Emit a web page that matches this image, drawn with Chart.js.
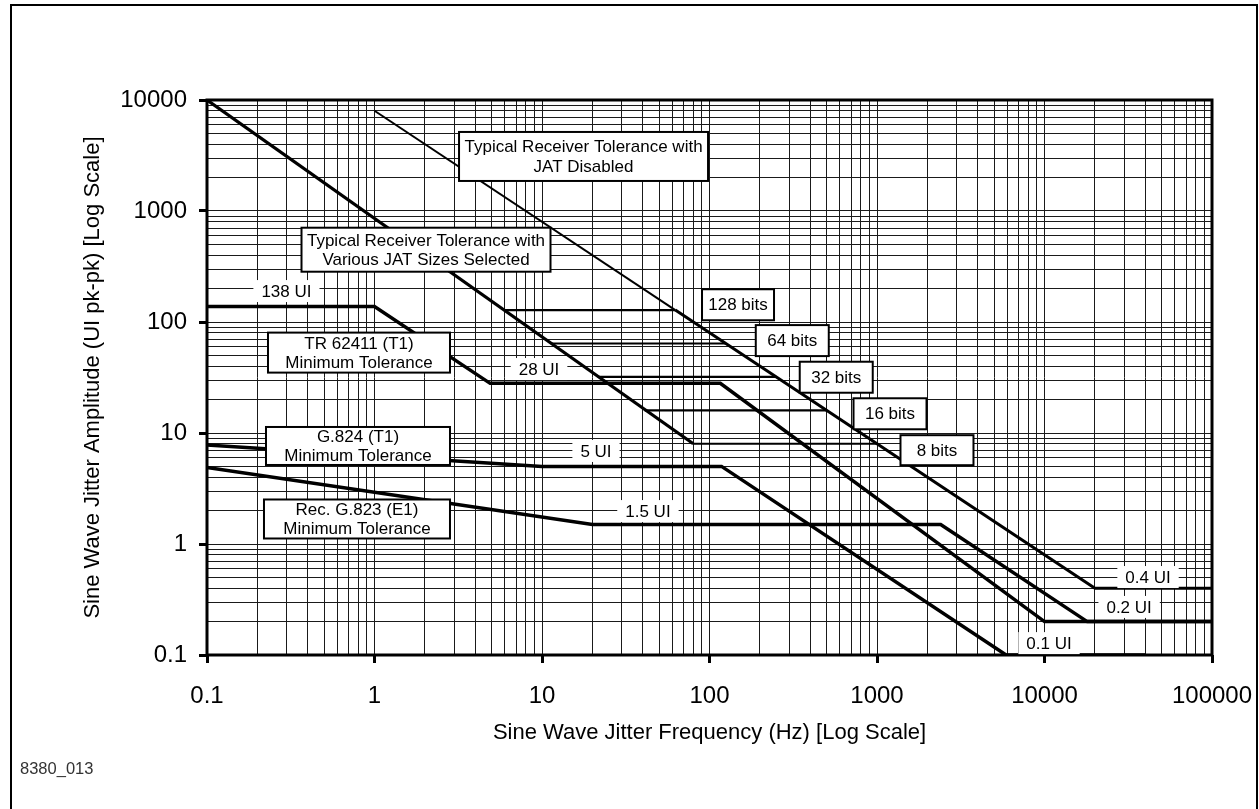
<!DOCTYPE html>
<html>
<head>
<meta charset="utf-8">
<title>Jitter tolerance</title>
<script src="https://cdn.jsdelivr.net/npm/chart.js@4.4.1/dist/chart.umd.min.js"></script>
<style>
  html, body { margin: 0; padding: 0; background: #fff; }
  #wrap { width: 1259px; height: 809px; position: relative; }
</style>
</head>
<body>
<div id="wrap"><canvas id="jitterChart"></canvas></div>
<script>
// decade ticks and their labels
const freqTicks = [0.1, 1, 10, 100, 1000, 10000, 100000];
const freqTickLabels = ["0.1", "1", "10", "100", "1000", "10000", "100000"];
const ampTicks = [0.1, 1, 10, 100, 1000, 10000];
const ampTickLabels = ["0.1", "1", "10", "100", "1000", "10000"];

// TR 62411 (T1) minimum tolerance
const tr62411Freq = [0.1, 1, 4.9, 116, 10000, 100000];
const tr62411Amp = [138, 138, 28, 28, 0.2, 0.2];

// G.824 (T1) minimum tolerance
const g824Freq = [0.1, 10, 118, 5900, 40000];
const g824Amp = [7.8, 5, 5, 0.1, 0.1];

// Rec. G.823 (E1) minimum tolerance
const g823Freq = [0.1, 20, 2400, 18000, 100000];
const g823Amp = [4.9, 1.5, 1.5, 0.2, 0.2];

// typical receiver, JAT selected: common low frequency slope
const jatSlopeFreq = [0.1, 80];
const jatSlopeAmp = [10000, 8];

// typical receiver, JAT disabled
const jatOffFreq = [1, 62.5, 20000, 100000];
const jatOffAmp = [8000, 128, 0.4, 0.4];

// JAT size plateaus (bits)
const jatSizes = [128, 64, 32, 16, 8];
const jatStartFreq = [6, 11.3, 21.5, 41, 80];
const jatEndFreq = [62.5, 125, 250, 500, 1000];

const FONT = '"Liberation Sans", Arial, Helvetica, sans-serif';

// labels, anchored in data coordinates (Hz, UI)
const notes = [
    { text: "Typical Receiver Tolerance with\nJAT Disabled", f: 17.7, v: 3100, w: 249, h: 49 },
    { text: "Typical Receiver Tolerance with\nVarious JAT Sizes Selected", f: 2.03, v: 448, w: 249, h: 44 },
    { text: "TR 62411 (T1)\nMinimum Tolerance", f: 0.808, v: 53, w: 182, h: 40 },
    { text: "G.824 (T1)\nMinimum Tolerance", f: 0.797, v: 7.64, w: 184, h: 38 },
    { text: "Rec. G.823 (E1)\nMinimum Tolerance", f: 0.786, v: 1.68, w: 186, h: 39 },
    { text: "128 bits", f: 148, v: 143, w: 72, h: 31 },
    { text: "64 bits", f: 312, v: 68, w: 73, h: 31 },
    { text: "32 bits", f: 571, v: 31.8, w: 73, h: 31 },
    { text: "16 bits", f: 1196, v: 14.9, w: 73, h: 31 },
    { text: "8 bits", f: 2281, v: 7.0, w: 73, h: 30 },
    { text: "138 UI", f: 0.298, v: 190 },
    { text: "28 UI", f: 9.6, v: 37.7 },
    { text: "5 UI", f: 21, v: 6.89 },
    { text: "1.5 UI", f: 42.9, v: 1.98 },
    { text: "0.4 UI", f: 41500, v: 0.504 },
    { text: "0.2 UI", f: 32000, v: 0.271 },
    { text: "0.1 UI", f: 10640, v: 0.128 },
];

function toPoints(xs, ys) {
    return xs.map((x, i) => ({ x: x, y: ys[i] }));
}

function gridValues(decades) {
    const out = [];
    decades.forEach((d, i) => {
        if (i === decades.length - 1) { out.push(d); return; }
        for (let k = 1; k < 10; k++) out.push(d * k);
    });
    return out;
}

function decadeIndex(v, decades) {
    return decades.findIndex(d => Math.abs(Math.log10(v) - Math.log10(d)) < 1e-6);
}

function lineSet(label, xs, ys, width, extra) {
    return Object.assign({
        label: label,
        data: toPoints(xs, ys),
        showLine: true,
        borderColor: "#000",
        backgroundColor: "#000",
        borderWidth: width,
        pointRadius: 0,
        tension: 0,
        fill: false,
    }, extra || {});
}

const datasets = [
    lineSet("TR 62411 (T1)", tr62411Freq, tr62411Amp, 3.5),
    lineSet("G.824 (T1)", g824Freq, g824Amp, 3.5),
    lineSet("Rec. G.823 (E1)", g823Freq, g823Amp, 3.5),
    lineSet("JAT selected", jatSlopeFreq, jatSlopeAmp, 3.2),
    lineSet("JAT disabled", jatOffFreq, jatOffAmp, 3, {
        segment: { borderWidth: c => (c.p0DataIndex === 0 ? 2 : 3) },
    }),
];
jatSizes.forEach((n, i) => {
    datasets.push(lineSet(n + " bits", [jatStartFreq[i], jatEndFreq[i]], [n, n], 2.2));
});

function axisOptions(min, max, decades, labels, isX) {
    return {
        type: "logarithmic",
        min: min,
        max: max,
        afterBuildTicks: s => { s.ticks = gridValues(decades).map(v => ({ value: v })); },
        afterFit: s => {
            if (isX) {
                s.height = 154;
                s.paddingLeft = 0;
                s.paddingRight = 0;
            } else {
                s.width = 207;
            }
        },
        ticks: {
            autoSkip: false,
            maxRotation: 0,
            minRotation: 0,
            padding: isX ? 19 : 12,
            color: "#000",
            font: { family: FONT, size: 24 },
            callback: v => {
                const i = decadeIndex(v, decades);
                return i >= 0 ? labels[i] : "";
            },
        },
        grid: {
            color: "#1a1a1a",
            lineWidth: 1,
            tickLength: 8,
            tickWidth: 3,
            tickColor: c => (c.tick && decadeIndex(c.tick.value, decades) >= 0 ? "#000" : "rgba(0,0,0,0)"),
        },
        border: { display: false },
    };
}

const overlay = {
    id: "overlay",
    beforeDraw(chart) {
        const ctx = chart.ctx;
        ctx.save();
        ctx.fillStyle = "#fff";
        ctx.fillRect(0, 0, chart.width, chart.height);
        ctx.lineWidth = 2;
        ctx.strokeStyle = "#000";
        ctx.strokeRect(11, 5, 1246, 830);
        ctx.restore();
    },
    afterDatasetsDraw(chart) {
        const { ctx, chartArea: a } = chart;
        const x = chart.scales.x, y = chart.scales.y;
        ctx.save();

        // plot frame
        ctx.lineWidth = 3;
        ctx.strokeStyle = "#000";
        ctx.strokeRect(a.left, a.top, a.right - a.left, a.bottom - a.top);

        // annotations
        ctx.font = "17px " + FONT;
        ctx.textAlign = "center";
        ctx.textBaseline = "middle";
        notes.forEach(n => {
            const cx = x.getPixelForValue(n.f);
            const cy = y.getPixelForValue(n.v);
            const lines = n.text.split("\n");
            const boxed = !!n.w;
            const w = boxed ? n.w : ctx.measureText(n.text).width + 16;
            const h = boxed ? n.h : 22;
            ctx.fillStyle = "#fff";
            ctx.fillRect(cx - w / 2, cy - h / 2, w, h);
            if (boxed) {
                ctx.lineWidth = 2;
                ctx.strokeRect(cx - w / 2, cy - h / 2, w, h);
            }
            ctx.fillStyle = "#000";
            lines.forEach((t, i) => {
                ctx.fillText(t, cx, cy + (i - (lines.length - 1) / 2) * 19.5 + 1);
            });
        });

        // axis titles
        ctx.font = "22px " + FONT;
        ctx.fillText("Sine Wave Jitter Frequency (Hz) [Log Scale]", (a.left + a.right) / 2, 733);
        ctx.save();
        ctx.translate(93, (a.top + a.bottom) / 2);
        ctx.rotate(-Math.PI / 2);
        ctx.fillText("Sine Wave Jitter Amplitude (UI pk-pk) [Log Scale]", 0, 0);
        ctx.restore();

        // figure id
        ctx.font = "16.5px " + FONT;
        ctx.fillStyle = "#333";
        ctx.textAlign = "left";
        ctx.fillText("8380_013", 20, 769);
        ctx.restore();
    },
};

new Chart(document.getElementById("jitterChart"), {
    type: "scatter",
    data: { datasets: datasets },
    options: {
        responsive: true,
        maintainAspectRatio: false,
        animation: false,
        events: [],
        layout: { padding: { top: 100, right: 47, left: 0, bottom: 0 } },
        plugins: {
            legend: { display: false },
            tooltip: { enabled: false },
        },
        scales: {
            x: axisOptions(0.1, 100000, freqTicks, freqTickLabels, true),
            y: axisOptions(0.1, 10000, ampTicks, ampTickLabels, false),
        },
    },
    plugins: [overlay],
});
</script>
</body>
</html>
